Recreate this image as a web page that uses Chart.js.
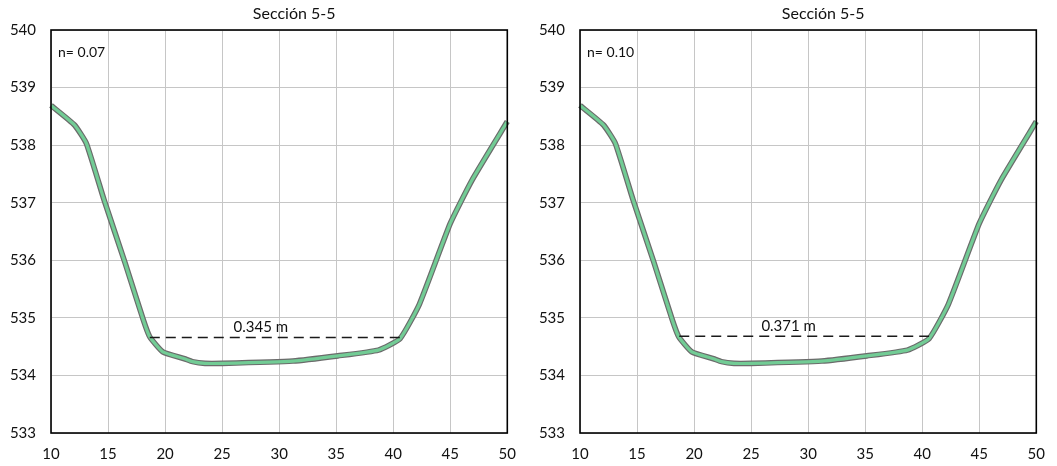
<!DOCTYPE html>
<html>
<head>
<meta charset="utf-8">
<script src="https://cdn.jsdelivr.net/npm/chart.js@4.4.1/dist/chart.umd.min.js"></script>
<style>
  html, body { margin: 0; padding: 0; background: #ffffff; }
  .wrap { display: flex; width: 1057px; height: 466px; }
  canvas { display: block; }
</style>
</head>
<body>
<div class="wrap">
  <canvas id="sec07" width="528" height="466"></canvas>
  <canvas id="sec10" width="529" height="466"></canvas>
</div>
<script>
'use strict';

// ── Datos ─────────────────────────────────────────────────────────────────────

const titulo = 'Sección 5-5';
const estaciones = [10, 12.06, 13.1, 14.65, 16.5, 18.1, 18.66, 19.8, 21.7, 22.4, 23.5, 25, 31.2, 35.15, 38.7, 40.6, 42.3, 45.0, 46.9, 50];
const cotas      = [538.69, 538.35, 538.03, 537.05, 535.95, 534.96, 534.67, 534.41, 534.29, 534.24, 534.21, 534.21, 534.25, 534.34, 534.44, 534.64, 535.24, 536.64, 537.39, 538.41];

const paneles  = ['sec07', 'sec10'];
const manning  = ['n= 0.07', 'n= 0.10'];
const tirantes = ['0.345 m', '0.371 m'];
const aguaX    = [[18.66, 40.6], [18.7, 40.6]];
const aguaY    = [534.66, 534.68];
const etiquetaX = [26.0, 25.9];

const xTicks = [10, 15, 20, 25, 30, 35, 40, 45, 50];
const yTicks = [533, 534, 535, 536, 537, 538, 539, 540];

const FONT = 'Lato, "Open Sans", sans-serif';

// ── Plugin: marco, título y textos ────────────────────────────────────────────

const textosPlugin = {
  id: 'textos',
  afterDraw(chart, args, opts) {
    const { ctx, chartArea: a, scales } = chart;
    ctx.save();
    ctx.strokeStyle = '#000000';
    ctx.lineWidth = 1.6;
    ctx.strokeRect(a.left, a.top, a.right - a.left, a.bottom - a.top);

    ctx.fillStyle = '#111111';
    ctx.font = '16px ' + FONT;
    ctx.textAlign = 'center';
    ctx.textBaseline = 'middle';
    ctx.fillText(titulo, (a.left + a.right) / 2 + 15, 14);

    ctx.font = '14px ' + FONT;
    ctx.textAlign = 'left';
    ctx.fillText(opts.n, a.left + 7, a.top + 22);

    ctx.font = '15px ' + FONT;
    ctx.textBaseline = 'alphabetic';
    ctx.fillText(opts.tirante, scales.x.getPixelForValue(opts.lx), scales.y.getPixelForValue(opts.ly) - 5);
    ctx.restore();
  },
};

// ── Sección ───────────────────────────────────────────────────────────────────

function renderSeccion(i) {
  const canvas = document.getElementById(paneles[i]);
  const terreno = estaciones.map((x, k) => ({ x, y: cotas[k] }));
  const agua = aguaX[i].map(x => ({ x, y: aguaY[i] }));

  new Chart(canvas, {
    type: 'line',
    data: {
      datasets: [
        { data: agua, borderColor: '#1a1a1a', borderWidth: 1.5, borderDash: [10, 6], pointRadius: 0, tension: 0 },
        { data: terreno, borderColor: '#72cc95', borderWidth: 3.2, pointRadius: 0, tension: 0.15 },
        { data: terreno, borderColor: '#6b6b6b', borderWidth: 5.6, pointRadius: 0, tension: 0.15 },
      ],
    },
    options: {
      responsive: false,
      animation: false,
      clip: false,
      layout: { padding: { top: 30, right: 12, left: 0, bottom: 0 } },
      plugins: {
        legend: { display: false },
        tooltip: { enabled: false },
        textos: { n: manning[i], tirante: tirantes[i], lx: etiquetaX[i], ly: aguaY[i] },
      },
      scales: {
        x: {
          type: 'linear', min: 10, max: 50,
          afterBuildTicks: s => { s.ticks = xTicks.map(v => ({ value: v })); },
          afterFit: s => { s.height = 33; },
          grid: { color: '#c6c6c6', lineWidth: 1, drawTicks: false },
          border: { display: false },
          ticks: { color: '#111111', font: { size: 15, family: FONT }, padding: 12, maxRotation: 0 },
        },
        y: {
          type: 'linear', min: 533, max: 540,
          afterBuildTicks: s => { s.ticks = yTicks.map(v => ({ value: v })); },
          afterFit: s => { s.width = canvas.id === 'sec07' ? 51 : 52; },
          grid: { color: '#c6c6c6', lineWidth: 1, drawTicks: false },
          border: { display: false },
          ticks: { color: '#111111', font: { size: 15, family: FONT }, padding: 15 },
        },
      },
    },
    plugins: [textosPlugin],
  });
}

paneles.forEach((_, i) => renderSeccion(i));
</script>
</body>
</html>
